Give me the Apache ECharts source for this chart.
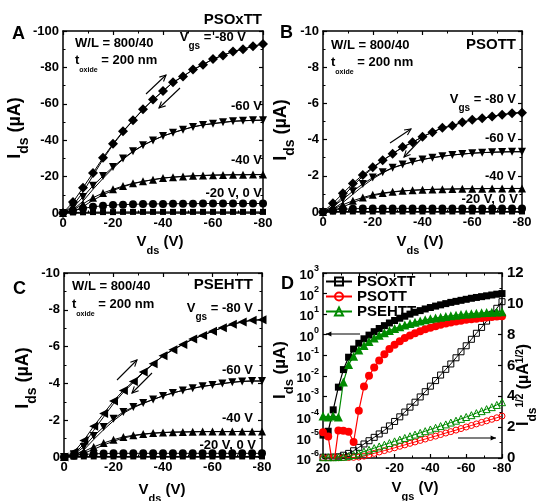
<!DOCTYPE html>
<html>
<head>
<meta charset="utf-8">
<script src="https://cdn.jsdelivr.net/npm/echarts@6/dist/echarts.min.js"></script>
<style>
  html, body { margin: 0; padding: 0; background: #fff; }
  #c { width: 536px; height: 501px; }
</style>
</head>
<body>
<div id="c"></div>
<script>
const FONT = 'Liberation Sans, Arial, sans-serif';

// ---- Output characteristics (I_ds vs V_ds), one curve per gate voltage ----
const VDS = [0, -4, -8, -12, -16, -20, -24, -28, -32, -36, -40, -44, -48, -52, -56, -60, -64, -68, -72, -76, -80];

// PSOxTT, forward sweep
const A_VG80 = [0, -6, -13.9, -22, -30.4, -38, -44.9, -51, -57, -62.3, -67, -71.8, -75, -78.8, -81.5, -84.6, -86.6, -88.8, -90, -91.6, -92.9];
const A_VG60 = [0, -3, -8.8, -15, -20.3, -25.3, -29.9, -33.9, -37.2, -39.9, -42.3, -44.1, -45.8, -47.3, -48.4, -49.1, -49.8, -50.4, -50.7, -50.9, -51];
const A_VG40 = [0, -1.5, -5, -8.4, -11, -13, -14.8, -16.3, -17.4, -18.3, -19.2, -19.7, -20.1, -20.4, -20.6, -20.8, -20.9, -21, -21, -21.1, -21.1];
const A_VG20 = [0, -1.2, -2.5, -3.4, -4, -4.4, -4.6, -4.8, -4.9, -5, -5, -5.1, -5.1, -5.1, -5.2, -5.2, -5.2, -5.2, -5.2, -5.2, -5.2];
const A_VG0  = [0, -0.3, -0.4, -0.5, -0.5, -0.5, -0.6, -0.6, -0.6, -0.6, -0.6, -0.6, -0.6, -0.6, -0.6, -0.6, -0.6, -0.6, -0.6, -0.6, -0.6];
// PSOxTT, reverse sweep (upper gate voltages)
const A_VG80_REV = [0, -4, -11.5, -20.5, -29.5, -37.5, -44.6, -50.8, -56.8, -62.2, -67, -71.8, -75, -78.8, -81.5, -84.6, -86.6, -88.8, -90, -91.6, -92.9];
const A_VG60_REV = [0, -1.8, -6.5, -13, -19, -24.6, -29.5, -33.7, -37.1, -39.9, -42.3, -44.1, -45.8, -47.3, -48.4, -49.1, -49.8, -50.4, -50.7, -50.9, -51];
const A_VG40_REV = [0, -0.8, -3.5, -7, -10, -12.4, -14.4, -16.1, -17.3, -18.3, -19.2, -19.7, -20.1, -20.4, -20.6, -20.8, -20.9, -21, -21, -21.1, -21.1];

// PSOTT
const B_VG80 = [0, -0.48, -1.03, -1.58, -2.05, -2.47, -2.86, -3.22, -3.59, -3.85, -4.16, -4.41, -4.65, -4.76, -4.96, -5.09, -5.18, -5.27, -5.37, -5.46, -5.49];
const B_VG60 = [0, -0.3, -0.7, -1.15, -1.55, -1.9, -2.2, -2.45, -2.62, -2.77, -2.9, -3.0, -3.08, -3.15, -3.2, -3.25, -3.28, -3.3, -3.32, -3.33, -3.33];
const B_VG40 = [0, -0.15, -0.4, -0.62, -0.8, -0.95, -1.05, -1.12, -1.17, -1.2, -1.23, -1.25, -1.26, -1.27, -1.28, -1.29, -1.29, -1.3, -1.3, -1.3, -1.3];
const B_VG20 = [0, -0.1, -0.15, -0.18, -0.19, -0.2, -0.2, -0.2, -0.2, -0.2, -0.2, -0.2, -0.2, -0.2, -0.2, -0.2, -0.2, -0.2, -0.2, -0.2, -0.2];
const B_VG0  = [0, -0.02, -0.03, -0.03, -0.03, -0.03, -0.03, -0.03, -0.03, -0.03, -0.03, -0.03, -0.03, -0.03, -0.03, -0.03, -0.03, -0.03, -0.03, -0.03, -0.03];
const B_VG80_REV = [0, -0.3, -0.85, -1.45, -1.97, -2.42, -2.84, -3.21, -3.58, -3.85, -4.16, -4.41, -4.65, -4.76, -4.96, -5.09, -5.18, -5.27, -5.37, -5.46, -5.49];
const B_VG60_REV = [0, -0.18, -0.52, -0.98, -1.43, -1.83, -2.16, -2.43, -2.61, -2.77, -2.9, -3.0, -3.08, -3.15, -3.2, -3.25, -3.28, -3.3, -3.32, -3.33, -3.33];
const B_VG40_REV = [0, -0.08, -0.28, -0.52, -0.73, -0.9, -1.02, -1.1, -1.16, -1.2, -1.23, -1.25, -1.26, -1.27, -1.28, -1.29, -1.29, -1.3, -1.3, -1.3, -1.3];

// PSEHTT
const C_VG80 = [0, -0.27, -0.9, -1.67, -2.36, -3.04, -3.62, -4.11, -4.62, -5.07, -5.5, -5.83, -6.12, -6.41, -6.61, -6.83, -7.03, -7.21, -7.34, -7.43, -7.46];
const C_VG60 = [0, -0.15, -0.54, -1.14, -1.63, -2.08, -2.45, -2.72, -2.93, -3.13, -3.32, -3.48, -3.62, -3.73, -3.84, -3.91, -3.99, -4.06, -4.11, -4.13, -4.13];
const C_VG40 = [0, -0.1, -0.3, -0.55, -0.76, -0.94, -1.09, -1.18, -1.25, -1.3, -1.33, -1.35, -1.36, -1.37, -1.38, -1.38, -1.38, -1.38, -1.39, -1.39, -1.39];
const C_VG20 = [0, -0.08, -0.14, -0.17, -0.19, -0.2, -0.2, -0.2, -0.2, -0.2, -0.2, -0.2, -0.2, -0.2, -0.2, -0.2, -0.2, -0.2, -0.2, -0.2, -0.2];
const C_VG0  = [0, -0.02, -0.03, -0.03, -0.03, -0.03, -0.03, -0.03, -0.03, -0.03, -0.03, -0.03, -0.03, -0.03, -0.03, -0.03, -0.03, -0.03, -0.03, -0.03, -0.03];
const C_VG80_REV = [0, -0.15, -0.7, -1.45, -2.18, -2.9, -3.52, -4.05, -4.58, -5.05, -5.5, -5.83, -6.12, -6.41, -6.61, -6.83, -7.03, -7.21, -7.34, -7.43, -7.46];
const C_VG60_REV = [0, -0.08, -0.38, -0.95, -1.48, -1.97, -2.38, -2.68, -2.91, -3.12, -3.32, -3.48, -3.62, -3.73, -3.84, -3.91, -3.99, -4.06, -4.11, -4.13, -4.13];
const C_VG40_REV = [0, -0.05, -0.2, -0.42, -0.65, -0.86, -1.03, -1.15, -1.23, -1.29, -1.33, -1.35, -1.36, -1.37, -1.38, -1.38, -1.38, -1.38, -1.39, -1.39, -1.39];

// ---- Transfer characteristics at V_ds = -80 V ----
const VGS = [20, 17.1, 14.3, 11.4, 8.6, 5.7, 2.9, 0, -2.9, -5.7, -8.6, -11.4, -14.3, -17.1, -20, -22.9, -25.7, -28.6, -31.4, -34.3, -37.1, -40, -42.9, -45.7, -48.6, -51.4, -54.3, -57.1, -60, -62.9, -65.7, -68.6, -71.4, -74.3, -77.1, -80];

// |I_ds| in µA (log scale, left axis)
const LOG_PSOXTT = [1.3e-5, 2e-5, 2.2e-4, 2.8e-3, 2e-2, 8e-2, 0.2, 0.38, 0.63, 0.95, 1.4, 2.0, 2.75, 3.7, 4.9, 6.3, 7.9, 10, 12.3, 14.8, 17.8, 20.9, 24.5, 28.2, 32.4, 37.2, 41.7, 46.8, 52.5, 58.9, 64.6, 70.8, 77.6, 85.1, 93.3, 100];
const LOG_PSOTT  = [1.8e-5, 1.1e-5, 3e-7, 2.2e-5, 2.1e-5, 1.9e-5, 6e-6, 2e-4, 3e-3, 1e-2, 2.5e-2, 5.6e-2, 0.11, 0.2, 0.32, 0.48, 0.68, 0.91, 1.17, 1.48, 1.82, 2.19, 2.57, 3.02, 3.47, 3.89, 4.37, 4.79, 5.25, 5.62, 6.03, 6.46, 6.92, 7.24, 7.59, 7.94];
const LOG_PSEHTT = [1.1e-4, 1e-4, 1.1e-4, 1e-4, 5e-3, 3.5e-2, 8.9e-2, 0.18, 0.3, 0.47, 0.68, 0.93, 1.23, 1.58, 2.0, 2.45, 2.95, 3.47, 4.07, 4.68, 5.25, 5.89, 6.46, 7.08, 7.76, 8.32, 8.91, 9.55, 10.0, 10.5, 11.0, 11.5, 12.0, 12.3, 12.6, 13.2];

// |I_ds|^1/2 in µA^1/2 (linear, right axis)
const SQRT_PSOXTT = [0.05, 0.05, 0.06, 0.08, 0.18, 0.3, 0.47, 0.69, 0.91, 1.12, 1.34, 1.56, 1.8, 2.08, 2.37, 2.67, 2.98, 3.3, 3.62, 3.96, 4.3, 4.66, 5.02, 5.38, 5.75, 6.1, 6.5, 6.89, 7.28, 7.7, 8.09, 8.47, 8.88, 9.32, 9.71, 10.14];
const SQRT_PSOTT  = [0.02, 0.02, 0.02, 0.02, 0.03, 0.03, 0.04, 0.06, 0.12, 0.21, 0.3, 0.39, 0.48, 0.57, 0.66, 0.76, 0.85, 0.95, 1.04, 1.14, 1.23, 1.33, 1.42, 1.52, 1.62, 1.71, 1.81, 1.91, 2.01, 2.11, 2.21, 2.31, 2.41, 2.51, 2.61, 2.72];
const SQRT_PSEHTT = [0.05, 0.05, 0.05, 0.06, 0.08, 0.12, 0.2, 0.3, 0.42, 0.53, 0.64, 0.75, 0.86, 0.97, 1.08, 1.19, 1.3, 1.41, 1.52, 1.63, 1.74, 1.85, 1.96, 2.07, 2.18, 2.3, 2.42, 2.54, 2.66, 2.78, 2.91, 3.04, 3.17, 3.3, 3.44, 3.62];

const OUT_Y_TICKS_A = { min: -100, max: 0, interval: 20 };
const OUT_Y_TICKS_BC = { min: -10, max: 0, interval: 2 };

const RED = '#ff0000';
const GREEN = '#008a00';

// ---------- axes ----------
const tickLabel = { fontFamily: FONT, fontWeight: 'bold', fontSize: 13, color: '#000' };

function valAxis(gridIndex, position, range, showLabel, extra) {
  return Object.assign({
    type: 'value', gridIndex, position,
    min: range.min, max: range.max, interval: range.interval,
    axisLine: { show: true, onZero: false, lineStyle: { color: '#000', width: 1.5 } },
    axisTick: { show: true, inside: true, length: 4, lineStyle: { color: '#000', width: 1.2 } },
    minorTick: { show: true, splitNumber: 2, length: 2.5, lineStyle: { color: '#000', width: 1 } },
    axisLabel: Object.assign({ show: showLabel, margin: 4 }, tickLabel),
    splitLine: { show: false }
  }, extra || {});
}

const VDS_RANGE = { min: -80, max: 0, interval: 20 };
const VGS_RANGE = { min: -80, max: 20, interval: 20 };

const xAxes = [
  valAxis(0, 'bottom', VDS_RANGE, true, { inverse: true }),
  valAxis(0, 'top', VDS_RANGE, false, { inverse: true }),
  valAxis(1, 'bottom', VDS_RANGE, true, { inverse: true }),
  valAxis(1, 'top', VDS_RANGE, false, { inverse: true }),
  valAxis(2, 'bottom', VDS_RANGE, true, { inverse: true }),
  valAxis(2, 'top', VDS_RANGE, false, { inverse: true }),
  valAxis(3, 'bottom', VGS_RANGE, true, { inverse: true }),
  valAxis(3, 'top', VGS_RANGE, false, { inverse: true })
];

const logAxis = {
  type: 'log', gridIndex: 3, position: 'left', logBase: 10, min: 1e-6, max: 1e3,
  axisLine: { show: true, onZero: false, lineStyle: { color: '#000', width: 1.5 } },
  axisTick: { show: true, inside: true, length: 4, lineStyle: { color: '#000', width: 1.2 } },
  splitLine: { show: false },
  axisLabel: {
    margin: 4,
    formatter: function (v) {
      const e = Math.round(Math.log10(v));
      return '{b|10}{s|' + e + '}';
    },
    rich: {
      b: { fontFamily: FONT, fontWeight: 'bold', fontSize: 13, color: '#000', lineHeight: 18, verticalAlign: 'bottom' },
      s: { fontFamily: FONT, fontWeight: 'bold', fontSize: 9, color: '#000', lineHeight: 18, verticalAlign: 'top' }
    }
  }
};

const yAxes = [
  valAxis(0, 'left', OUT_Y_TICKS_A, true, { inverse: true }),
  valAxis(0, 'right', OUT_Y_TICKS_A, false, { inverse: true }),
  valAxis(1, 'left', OUT_Y_TICKS_BC, true, { inverse: true }),
  valAxis(1, 'right', OUT_Y_TICKS_BC, false, { inverse: true }),
  valAxis(2, 'left', OUT_Y_TICKS_BC, true, { inverse: true }),
  valAxis(2, 'right', OUT_Y_TICKS_BC, false, { inverse: true }),
  logAxis,
  valAxis(3, 'right', { min: 0, max: 12, interval: 2 }, true, { axisLabel: Object.assign({ show: true, margin: 5 }, tickLabel, { fontSize: 15 }) })
];

// ---------- series ----------
// axis = index of the panel's bottom x axis and left y axis
function outCurve(axis, ys, symbol, size, rotate) {
  return {
    type: 'line', xAxisIndex: axis, yAxisIndex: axis,
    data: VDS.map((v, i) => [v, ys[i]]),
    symbol, symbolSize: size, symbolRotate: rotate || 0,
    itemStyle: { color: '#000' },
    lineStyle: { color: '#000', width: 1 },
    silent: true, z: 3
  };
}
function sweepBack(axis, ys) {
  return {
    type: 'line', xAxisIndex: axis, yAxisIndex: axis,
    data: VDS.map((v, i) => [v, ys[i]]),
    showSymbol: false, symbol: 'none',
    lineStyle: { color: '#000', width: 1 },
    silent: true, z: 2
  };
}

function outPanel(axis, v80, v60, v40, v20, v0, rev80, rev60, rev40, sym80, rot80) {
  return [
    sweepBack(axis, rev80), sweepBack(axis, rev60), sweepBack(axis, rev40),
    outCurve(axis, v0, 'rect', 6),
    outCurve(axis, v20, 'circle', 8),
    outCurve(axis, v40, 'triangle', 8),
    outCurve(axis, v60, 'triangle', 8, 180),
    outCurve(axis, v80, sym80, sym80 === 'diamond' ? 10 : 9, rot80 || 0)
  ];
}

function logCurve(name, ys, color, symbol, size) {
  return {
    type: 'line', name, xAxisIndex: 6, yAxisIndex: 6,
    data: VGS.map((v, i) => [v, ys[i]]),
    symbol, symbolSize: size,
    itemStyle: { color },
    lineStyle: { color, width: 1.2 },
    silent: true, z: 4
  };
}

function sqrtCurve(name, ys, color, symbol, size) {
  return {
    type: 'line', name, xAxisIndex: 6, yAxisIndex: 7,
    data: VGS.map((v, i) => [v, ys[i]]),
    symbol, symbolSize: size,
    itemStyle: { color: 'rgba(255,255,255,0)', borderColor: color, borderWidth: 1 },
    lineStyle: { color, width: 1 },
    silent: true, z: 3
  };
}

const series = [].concat(
  outPanel(0, A_VG80, A_VG60, A_VG40, A_VG20, A_VG0, A_VG80_REV, A_VG60_REV, A_VG40_REV, 'diamond'),
  outPanel(2, B_VG80, B_VG60, B_VG40, B_VG20, B_VG0, B_VG80_REV, B_VG60_REV, B_VG40_REV, 'diamond'),
  outPanel(4, C_VG80, C_VG60, C_VG40, C_VG20, C_VG0, C_VG80_REV, C_VG60_REV, C_VG40_REV, 'triangle', 90),
  [
    sqrtCurve('PSOxTT', SQRT_PSOXTT, '#000', 'rect', 6),
    sqrtCurve('PSOTT', SQRT_PSOTT, RED, 'circle', 6),
    sqrtCurve('PSEHTT', SQRT_PSEHTT, GREEN, 'triangle', 7),
    logCurve('PSOxTT log', LOG_PSOXTT, '#000', 'rect', 7),
    logCurve('PSOTT log', LOG_PSOTT, RED, 'circle', 8),
    logCurve('PSEHTT log', LOG_PSEHTT, GREEN, 'triangle', 9)
  ]
);

// ---------- text annotations ----------
const base = { fontFamily: FONT, fontWeight: 'bold', fill: '#000' };
function rich(size, sub) {
  return {
    n: Object.assign({}, base, { fontSize: size, lineHeight: size + 7, verticalAlign: 'top' }),
    d: Object.assign({}, base, { fontSize: sub, lineHeight: size + 7, verticalAlign: 'bottom' }),
    u: Object.assign({}, base, { fontSize: sub - 2, lineHeight: size + 7, verticalAlign: 'top' }),
    t: Object.assign({}, base, { fontSize: 7, lineHeight: size + 5, verticalAlign: 'bottom' })
  };
}
function label(x, y, text, size, align) {
  return {
    type: 'text', x, y, silent: true, z: 10,
    style: Object.assign({ text, align: align || 'left', verticalAlign: 'top', rich: rich(size, Math.round(size * 0.75)) }, base, { fontSize: size })
  };
}
function vtitle(x, y, text, size) {
  return {
    type: 'text', x, y, rotation: Math.PI / 2, silent: true, z: 10,
    style: Object.assign({ text, align: 'center', verticalAlign: 'middle', rich: rich(size, Math.round(size * 0.75)) }, base, { fontSize: size })
  };
}
function arrow(x1, y1, x2, y2, head, filled) {
  const a = Math.atan2(y2 - y1, x2 - x1), s = 0.45;
  const p1 = [x2 - head * Math.cos(a - s), y2 - head * Math.sin(a - s)];
  const p2 = [x2 - head * Math.cos(a + s), y2 - head * Math.sin(a + s)];
  const els = [{ type: 'line', silent: true, z: 10, shape: { x1, y1, x2, y2 }, style: { stroke: '#000', lineWidth: 1.1 } }];
  if (filled) {
    els.push({ type: 'polygon', silent: true, z: 10, shape: { points: [[x2, y2], p1, p2] }, style: { fill: '#000' } });
  } else {
    els.push({ type: 'polyline', silent: true, z: 10, shape: { points: [p1, [x2, y2], p2] }, style: { stroke: '#000', lineWidth: 1.1, fill: null } });
  }
  return els;
}

const panelText = [
  // panel A
  label(12, 25, 'A', 18), label(262, 12, 'PSOxTT', 15, 'right'),
  label(75, 37, 'W/L = 800/40', 13), label(75, 54, '{n|t}{t|oxide}{n| = 200 nm}', 13),
  label(246, 31, '{n|V}{d|gs}{n| = -80 V}', 13, 'right'),
  label(262, 100, '-60 V', 13, 'right'), label(262, 154, '-40 V', 13, 'right'), label(262, 187, '-20 V, 0 V', 13, 'right'),
  vtitle(19, 128, '{n|I}{d|ds}{n| (µA)}', 18), label(160, 234, '{n|V}{d|ds}{n| (V)}', 15, 'center'),
  // panel B
  label(280, 24, 'B', 18), label(516, 37, 'PSOTT', 15, 'right'),
  label(331, 39, 'W/L = 800/40', 13), label(331, 56, '{n|t}{t|oxide}{n| = 200 nm}', 13),
  label(516, 93, '{n|V}{d|gs}{n| = -80 V}', 13, 'right'),
  label(516, 132, '-60 V', 13, 'right'), label(516, 170, '-40 V', 13, 'right'), label(518, 193, '-20 V, 0 V', 13, 'right'),
  vtitle(285, 130, '{n|I}{d|ds}{n| (µA)}', 18), label(420, 234, '{n|V}{d|ds}{n| (V)}', 15, 'center'),
  // panel C
  label(13, 280, 'C', 18), label(253, 277, 'PSEHTT', 15, 'right'),
  label(72, 280, 'W/L = 800/40', 13), label(72, 298, '{n|t}{t|oxide}{n| = 200 nm}', 13),
  label(253, 302, '{n|V}{d|gs}{n| = -80 V}', 13, 'right'),
  label(253, 364, '-60 V', 13, 'right'), label(253, 412, '-40 V', 13, 'right'), label(256, 439, '-20 V, 0 V', 13, 'right'),
  vtitle(27, 378, '{n|I}{d|ds}{n| (µA)}', 18), label(162, 482, '{n|V}{d|ds}{n| (V)}', 15, 'center'),
  // panel D
  label(281, 275, 'D', 18),
  vtitle(284, 370, '{n|I}{d|ds}{n| (µA)}', 17), label(415, 480, '{n|V}{d|gs}{n| (V)}', 15, 'center'),
  vtitle(527, 385, '{n|I}{d|ds}{u|1/2}{n| (µA}{u|1/2}{n|)}', 16)
];

const arrows = [].concat(
  arrow(146, 94, 166, 75, 7, false), arrow(180, 88, 159, 108, 7, false),
  arrow(390, 143, 411, 129, 7, false), arrow(423, 137, 404, 157, 7, false),
  arrow(117, 380, 137, 360, 7, false), arrow(152, 373, 132, 393, 7, false),
  arrow(360, 334, 326, 334, 6, true), arrow(458, 438, 496, 438, 6, true)
);

const chart = echarts.init(document.getElementById('c'), null, { renderer: 'canvas' });
chart.setOption({
  animation: false,
  backgroundColor: '#fff',
  grid: [
    { left: 63, top: 31, width: 200, height: 182 },
    { left: 323, top: 31, width: 199, height: 181 },
    { left: 64, top: 273, width: 198, height: 184 },
    { left: 323, top: 273, width: 179, height: 185 }
  ],
  xAxis: xAxes,
  yAxis: yAxes,
  legend: {
    left: 325, top: 274, orient: 'vertical', padding: 0,
    itemWidth: 26, itemHeight: 10, itemGap: 0,
    data: ['PSOxTT', 'PSOTT', 'PSEHTT'],
    selectedMode: false,
    textStyle: { fontFamily: FONT, fontWeight: 'bold', fontSize: 15, lineHeight: 15, color: '#000' }
  },
  series,
  graphic: panelText.concat(arrows)
});
</script>
</body>
</html>
